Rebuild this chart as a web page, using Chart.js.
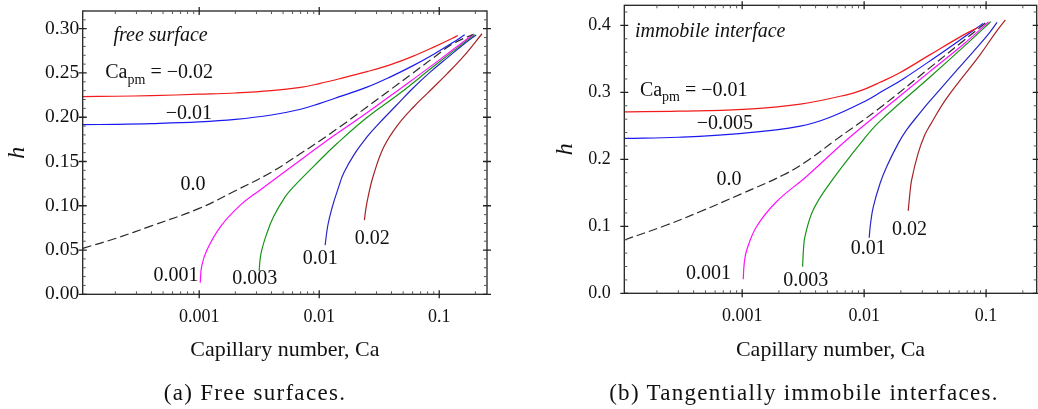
<!DOCTYPE html>
<html>
<head>
<meta charset="utf-8">
<script src="https://cdn.jsdelivr.net/npm/chart.js@4.4.1/dist/chart.umd.min.js"></script>
<style>
  html, body { margin: 0; padding: 0; background: #fff; }
  #wrap { position: relative; width: 1038px; height: 409px; overflow: hidden; }
  canvas { position: absolute; top: 0; }
  #chartA { left: 0; }
  #chartB { left: 520px; }
  .caption {
    position: absolute; top: 380px; line-height: 26px;
    font-family: "Liberation Serif", serif; font-size: 23px; letter-spacing: 1.3px;
    color: #111; white-space: nowrap; transform: translateX(-50%);
  }
</style>
</head>
<body>
<div id="wrap">
  <canvas id="chartA" width="520" height="409"></canvas>
  <canvas id="chartB" width="518" height="409"></canvas>
  <div class="caption" style="left:255px">(a) Free surfaces.</div>
  <div class="caption" style="left:804px">(b) Tangentially immobile interfaces.</div>
</div>
<script>
// ---- free surface: film thickness h against Ca, one curve per Ca_pm ----
var fsCaM002 = [1.07e-4, 2e-4, 4e-4, 0.001, 0.002, 0.004, 0.007, 0.01, 0.015, 0.025, 0.04, 0.06, 0.09, 0.13, 0.143];
var fsHM002  = [0.2233, 0.2237, 0.2244, 0.2260, 0.2274, 0.2300, 0.2338, 0.2380, 0.2437, 0.2515, 0.2597, 0.2687, 0.2792, 0.2895, 0.2924];
var fsCaM001 = [1.07e-4, 2e-4, 4e-4, 0.001, 0.002, 0.004, 0.007, 0.01, 0.015, 0.025, 0.04, 0.06, 0.09, 0.13, 0.163];
var fsHM001  = [0.1917, 0.1920, 0.1928, 0.1947, 0.1975, 0.2025, 0.2090, 0.2154, 0.2235, 0.2340, 0.2462, 0.2580, 0.2712, 0.2843, 0.2932];
var fsCa0    = [1.07e-4, 2e-4, 4e-4, 0.001, 0.002, 0.004, 0.007, 0.01, 0.015, 0.025, 0.04, 0.06, 0.09, 0.13, 0.19];
var fsH0     = [0.0519, 0.0630, 0.0773, 0.0970, 0.1170, 0.1380, 0.1590, 0.1730, 0.1895, 0.2116, 0.2320, 0.2497, 0.2675, 0.2830, 0.2935];
var fsCaP0001 = [0.00102, 0.00105, 0.00116, 0.0015, 0.0022, 0.0032, 0.0061, 0.0109, 0.025, 0.047, 0.09, 0.194];
var fsHP0001  = [0.0131, 0.032, 0.050, 0.0762, 0.1007, 0.1176, 0.1458, 0.171, 0.205, 0.232, 0.260, 0.294];
var fsCaP0003 = [0.00316, 0.00322, 0.00332, 0.0036, 0.00416, 0.0052, 0.0061, 0.0102, 0.014, 0.025, 0.047, 0.09, 0.197];
var fsHP0003  = [0.0263, 0.040, 0.050, 0.066, 0.0875, 0.110, 0.1214, 0.152, 0.170, 0.1996, 0.227, 0.2575, 0.2935];
var fsCaP001 = [0.0112, 0.0118, 0.0128, 0.0145, 0.016, 0.02, 0.025, 0.03, 0.044, 0.06, 0.084, 0.12, 0.16, 0.203];
var fsHP001  = [0.0556, 0.078, 0.098, 0.121, 0.137, 0.160, 0.1777, 0.190, 0.2135, 0.2325, 0.251, 0.2685, 0.2825, 0.293];
var fsCaP002 = [0.0238, 0.0245, 0.0258, 0.0283, 0.0344, 0.0444, 0.0611, 0.08, 0.116, 0.16, 0.227];
var fsHP002  = [0.0838, 0.097, 0.113, 0.1345, 0.166, 0.190, 0.2116, 0.2273, 0.249, 0.269, 0.2943];

// ---- tangentially immobile interface ----
var imCaM001  = [1.08e-4, 3e-4, 0.001, 0.003, 0.0076, 0.01, 0.0135, 0.0196, 0.0345, 0.0649, 0.085];
var imHM001   = [0.271, 0.272, 0.2746, 0.2825, 0.2975, 0.3045, 0.315, 0.3293, 0.356, 0.3855, 0.3966];
var imCaM0005 = [1.08e-4, 3e-4, 0.001, 0.003, 0.0052, 0.01, 0.0145, 0.0209, 0.0392, 0.06, 0.0945];
var imHM0005  = [0.2313, 0.233, 0.2388, 0.2496, 0.2625, 0.2861, 0.3031, 0.3201, 0.3536, 0.3771, 0.403];
var imCa0     = [1.08e-4, 2.4e-4, 4.5e-4, 0.001, 0.00217, 0.0035, 0.00557, 0.0135, 0.0345, 0.0649, 0.1];
var imH0      = [0.0796, 0.1019, 0.1218, 0.149, 0.1766, 0.199, 0.2263, 0.277, 0.3366, 0.3768, 0.4045];
var imCaP0001 = [0.00102, 0.00104, 0.00109, 0.00131, 0.00191, 0.00337, 0.00718, 0.0135, 0.0345, 0.0649, 0.1046];
var imHP0001  = [0.0209, 0.045, 0.0646, 0.0994, 0.1367, 0.1745, 0.2288, 0.2702, 0.331, 0.3715, 0.405];
var imCaP0003 = [0.00313, 0.00318, 0.00327, 0.00382, 0.00523, 0.0098, 0.0135, 0.0345, 0.0649, 0.109];
var imHP0003  = [0.0397, 0.065, 0.0845, 0.1243, 0.1642, 0.2288, 0.257, 0.3225, 0.3675, 0.4055];
var imCaP001  = [0.011, 0.0113, 0.0119, 0.0135, 0.0153, 0.019, 0.0223, 0.0286, 0.0345, 0.0537, 0.0649, 0.1, 0.123];
var imHP001   = [0.083, 0.105, 0.1293, 0.164, 0.189, 0.2235, 0.2439, 0.269, 0.2868, 0.3268, 0.3438, 0.3827, 0.4045];
var imCaP002  = [0.023, 0.0236, 0.0245, 0.0277, 0.0314, 0.0345, 0.0474, 0.0888, 0.12, 0.144];
var imHP002   = [0.1233, 0.145, 0.169, 0.209, 0.2363, 0.25, 0.291, 0.3557, 0.3895, 0.4084];

// axis ticks
var caTicks = [0.001, 0.01, 0.1];
var fsHTicks = [0, 0.05, 0.1, 0.15, 0.2, 0.25, 0.3];
var imHTicks = [0, 0.1, 0.2, 0.3, 0.4];

// in-plot labels, placed in data units
var fsNotes = [
  { text: "free surface", ca: 1.93e-4, h: 0.292, align: "left", italic: true },
  { text: " = \u22120.02", sub: "pm", ca: 1.65e-4, h: 0.250, align: "left" },
  { text: "\u22120.01", ca: 8.2e-4, h: 0.204 },
  { text: "0.0", ca: 8.9e-4, h: 0.124 },
  { text: "0.001", ca: 6.4e-4, h: 0.0206 },
  { text: "0.003", ca: 0.0029, h: 0.018 },
  { text: "0.01", ca: 0.0102, h: 0.0398 },
  { text: "0.02", ca: 0.0277, h: 0.0631 }
];
var imNotes = [
  { text: "immobile interface", ca: 1.32e-4, h: 0.3905, align: "left", italic: true },
  { text: " = \u22120.01", sub: "pm", ca: 1.45e-4, h: 0.3024, align: "left" },
  { text: "\u22120.005", ca: 7.2e-4, h: 0.2527 },
  { text: "0.0", ca: 7.8e-4, h: 0.169 },
  { text: "0.001", ca: 5.3e-4, h: 0.0288 },
  { text: "0.003", ca: 0.00332, h: 0.0184 },
  { text: "0.01", ca: 0.0108, h: 0.0672 },
  { text: "0.02", ca: 0.0235, h: 0.0955 }
];

var colors = {
  red: "#f21a1a", blue: "#1a1af0", dash: "#2a2a2a",
  magenta: "#ff10ff", green: "#179417", navy: "#2525c8", brown: "#a42424"
};

var serif = '"Liberation Serif", "Times New Roman", serif';

function pts(xs, ys) {
  return xs.map(function (x, i) { return { x: x, y: ys[i] }; });
}

function curve(label, xs, ys, color, dashed) {
  return {
    label: label,
    data: pts(xs, ys),
    borderColor: color,
    borderWidth: 1.2,
    borderDash: dashed ? [9, 4] : [],
    pointRadius: 0,
    fill: false,
    tension: 0.4
  };
}

// box frame, mirrored ticks (major cross the frame, minor point inward) and labels
function framePlugin(cfg) {
  return {
    id: "frame",
    afterDraw: function (chart) {
      var ctx = chart.ctx, a = chart.chartArea;
      var xs = chart.scales.x, ys = chart.scales.y;
      ctx.save();
      ctx.strokeStyle = "#222";
      ctx.lineWidth = 1.3;
      ctx.strokeRect(a.left, a.top, a.right - a.left, a.bottom - a.top);

      ctx.beginPath();
      cfg.xTicks.forEach(function (v) {
        var p = xs.getPixelForValue(v);
        ctx.moveTo(p, a.bottom + 4); ctx.lineTo(p, a.bottom - 4);
        ctx.moveTo(p, a.top - 4); ctx.lineTo(p, a.top + 4);
      });
      cfg.yTicks.forEach(function (v) {
        var p = ys.getPixelForValue(v);
        ctx.moveTo(a.left - 4, p); ctx.lineTo(a.left + 4, p);
        ctx.moveTo(a.right - 4, p); ctx.lineTo(a.right + 4, p);
      });
      ctx.stroke();

      ctx.lineWidth = 1;
      ctx.strokeStyle = "#555";
      ctx.beginPath();
      var k0 = Math.floor(Math.log10(cfg.xMin)), k1 = Math.ceil(Math.log10(cfg.xMax));
      for (var k = k0; k <= k1; k++) {
        for (var m = 2; m <= 9; m++) {
          var v = m * Math.pow(10, k);
          if (v <= cfg.xMin || v >= cfg.xMax) continue;
          var px = xs.getPixelForValue(v);
          ctx.moveTo(px, a.bottom); ctx.lineTo(px, a.bottom - 3);
          ctx.moveTo(px, a.top); ctx.lineTo(px, a.top + 3);
        }
      }
      var n = Math.floor(cfg.yMax / cfg.yMinor + 1e-6);
      for (var i = 1; i <= n; i++) {
        var yv = i * cfg.yMinor;
        var isMajor = cfg.yTicks.some(function (t) { return Math.abs(t - yv) < 1e-6; });
        if (isMajor) continue;
        var py = ys.getPixelForValue(yv);
        ctx.moveTo(a.left, py); ctx.lineTo(a.left + 3, py);
        ctx.moveTo(a.right, py); ctx.lineTo(a.right - 3, py);
      }
      ctx.stroke();

      ctx.fillStyle = "#111";
      ctx.textBaseline = "middle";
      cfg.notes.forEach(function (nt) {
        var x = xs.getPixelForValue(nt.ca), y = ys.getPixelForValue(nt.h);
        ctx.font = (nt.italic ? "italic " : "") + "20px " + serif;
        if (nt.sub) {
          ctx.textAlign = "left";
          ctx.fillText("Ca", x, y);
          x += ctx.measureText("Ca").width;
          ctx.font = "14px " + serif;
          ctx.fillText(nt.sub, x, y + 7);
          x += ctx.measureText(nt.sub).width;
          ctx.font = "20px " + serif;
          ctx.fillText(nt.text, x, y);
        } else {
          ctx.textAlign = nt.align || "center";
          ctx.fillText(nt.text, x, y);
        }
      });
      ctx.restore();
    }
  };
}

function panel(canvasId, cfg, datasets) {
  new Chart(document.getElementById(canvasId), {
    type: "line",
    data: { datasets: datasets },
    plugins: [framePlugin(cfg)],
    options: {
      responsive: false,
      animation: false,
      devicePixelRatio: 1,
      layout: { padding: cfg.pad },
      plugins: { legend: { display: false }, tooltip: { enabled: false } },
      scales: {
        x: {
          type: "logarithmic",
          min: cfg.xMin,
          max: cfg.xMax,
          grid: { display: false, drawTicks: false },
          border: { display: false },
          afterBuildTicks: function (s) {
            s.ticks = cfg.xTicks.map(function (v) { return { value: v }; });
          },
          afterFit: function (s) {
            s.height = cfg.xHeight;
            s.paddingLeft = 0;
            s.paddingRight = 0;
          },
          ticks: {
            padding: 12,
            color: "#111",
            font: { family: serif, size: 18 },
            callback: function (v) { return String(v); }
          },
          title: {
            display: true,
            text: "Capillary number, Ca",
            color: "#111",
            font: { family: serif, size: 22 },
            padding: { top: 0, bottom: 45.8 }
          }
        },
        y: {
          type: "linear",
          min: 0,
          max: cfg.yMax,
          grid: { display: false, drawTicks: false },
          border: { display: false },
          afterBuildTicks: function (s) {
            s.ticks = cfg.yTicks.map(function (v) { return { value: v }; });
          },
          // keep the plot box where the layout padding puts it
          afterFit: function (s) {
            s.width = cfg.yWidth;
            s.paddingTop = 0;
            s.paddingBottom = 0;
          },
          ticks: {
            padding: cfg.yPad,
            color: "#111",
            font: { family: serif, size: cfg.yFont },
            callback: function (v) { return v.toFixed(cfg.yDigits); }
          },
          title: {
            display: true,
            text: "h",
            color: "#111",
            font: { family: serif, size: 24, style: "italic" },
            padding: { top: cfg.hPad, bottom: 0 }
          }
        }
      }
    }
  });
}

panel("chartA", {
  pad: { top: 11, right: 33, left: 0, bottom: 0 },
  xMin: 1.07e-4, xMax: 0.25, xTicks: caTicks, xHeight: 114.7,
  yMax: 0.32, yTicks: fsHTicks, yMinor: 0.01, yDigits: 2, yWidth: 82.7, yPad: 3.5, yFont: 19.5, hPad: 3,
  notes: fsNotes
}, [
  curve("0.0", fsCa0, fsH0, colors.dash, true),
  curve("-0.02", fsCaM002, fsHM002, colors.red),
  curve("-0.01", fsCaM001, fsHM001, colors.blue),
  curve("0.001", fsCaP0001, fsHP0001, colors.magenta),
  curve("0.003", fsCaP0003, fsHP0003, colors.green),
  curve("0.01", fsCaP001, fsHP001, colors.navy),
  curve("0.02", fsCaP002, fsHP002, colors.brown)
]);

panel("chartB", {
  pad: { top: 5.3, right: 1.3, left: 0, bottom: 0 },
  xMin: 1.08e-4, xMax: 0.26, xTicks: caTicks, xHeight: 115.7,
  yMax: 0.43, yTicks: imHTicks, yMinor: 0.02, yDigits: 1, yWidth: 104.3, yPad: 13.6, yFont: 18, hPad: 31.4,
  notes: imNotes
}, [
  curve("0.0", imCa0, imH0, colors.dash, true),
  curve("-0.01", imCaM001, imHM001, colors.red),
  curve("-0.005", imCaM0005, imHM0005, colors.blue),
  curve("0.001", imCaP0001, imHP0001, colors.magenta),
  curve("0.003", imCaP0003, imHP0003, colors.green),
  curve("0.01", imCaP001, imHP001, colors.navy),
  curve("0.02", imCaP002, imHP002, colors.brown)
]);
</script>
</body>
</html>
